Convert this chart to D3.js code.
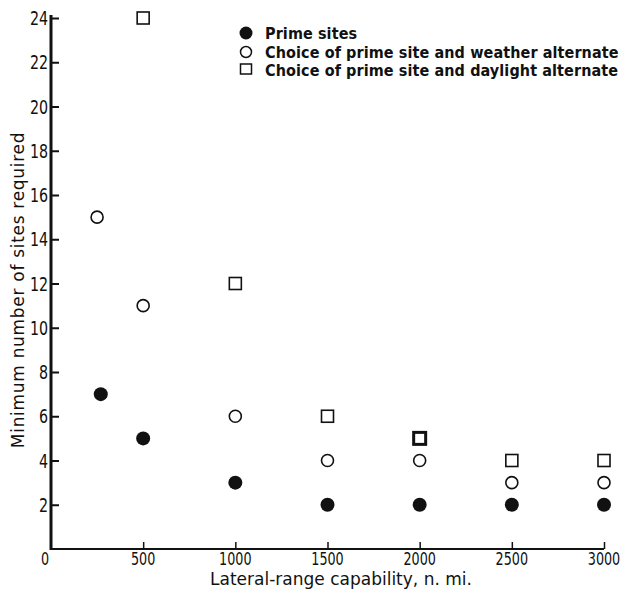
<!DOCTYPE html>
<html>
<head>
<meta charset="utf-8">
<script src="https://cdn.jsdelivr.net/npm/d3@7"></script>
<style>
  body { margin: 0; background: #fff; }
  text { font-family: "DejaVu Sans", sans-serif; fill: #111; }
  .narrow { font-family: "DejaVu Sans Condensed", "Liberation Sans Narrow", sans-serif; }
</style>
</head>
<body>
<svg width="628" height="598"></svg>
<script>
// lateral range (n. mi.) and minimum number of sites
var primeX = [270, 500, 1000, 1500, 2000, 2500, 3000];
var primeY = [7, 5, 3, 2, 2, 2, 2];
var weatherX = [250, 500, 1000, 1500, 2000, 2500, 3000];
var weatherY = [15, 11, 6, 4, 4, 3, 3];
var daylightX = [500, 1000, 1500, 2000, 2500, 3000];
var daylightY = [24, 12, 6, 5, 4, 4];
var xTicks = [500, 1000, 1500, 2000, 2500, 3000];
var yTicks = [2, 4, 6, 8, 10, 12, 14, 16, 18, 20, 22, 24];
var legendLabels = ["Prime sites",
    "Choice of prime site and weather alternate",
    "Choice of prime site and daylight alternate"];

var svg = d3.select("svg");

var x = d3.scaleLinear().domain([0, 3000]).range([51, 604]);
var y = d3.scaleLinear().domain([0, 24]).range([549, 18]);

// axes
var yAxis = d3.axisRight(y).tickValues(yTicks).tickSize(8).tickFormat("");
var gy = svg.append("g").attr("transform", "translate(" + x(0) + ",0)").call(yAxis);
gy.select(".domain").remove();
gy.selectAll(".tick line").attr("stroke", "#111").attr("stroke-width", 2);

var xAxis = d3.axisTop(x).tickValues(xTicks).tickSize(7).tickFormat("");
var gx = svg.append("g").attr("transform", "translate(0," + y(0) + ")").call(xAxis);
gx.select(".domain").remove();
gx.selectAll(".tick line").attr("stroke", "#111").attr("stroke-width", 1.5);

svg.append("line")
    .attr("x1", x(0)).attr("x2", x(0))
    .attr("y1", y(0) + 1).attr("y2", y(24) - 3)
    .attr("stroke", "#111").attr("stroke-width", 3);
svg.append("line")
    .attr("x1", x(0)).attr("x2", x(3000))
    .attr("y1", y(0)).attr("y2", y(0))
    .attr("stroke", "#111").attr("stroke-width", 2);

// tick labels (narrow lettering like the original)
svg.append("g").selectAll(null)
    .data(yTicks).enter()
    .append("text")
    .attr("transform", function(d) {
        return "translate(" + (x(0) - 3) + "," + (y(d) + 7) + ") scale(0.75,1)";
    })
    .attr("text-anchor", "end")
    .style("font-size", "19px")
    .text(function(d) { return d; });

svg.append("g").selectAll(null)
    .data(xTicks).enter()
    .append("text")
    .attr("transform", function(d) {
        return "translate(" + x(d) + "," + (y(0) + 16) + ") scale(0.75,1)";
    })
    .attr("text-anchor", "middle")
    .style("font-size", "17px")
    .text(function(d) { return d; });

svg.append("text")
    .attr("transform", "translate(" + (x(0) - 6) + "," + (y(0) + 16) + ") scale(0.75,1)")
    .attr("text-anchor", "middle")
    .style("font-size", "17px")
    .text("0");

// axis titles
svg.append("text")
    .attr("x", 341)
    .attr("y", 585)
    .attr("text-anchor", "middle")
    .style("font-size", "17px")
    .text("Lateral-range capability, n. mi.");

svg.append("text")
    .attr("transform", "translate(24,290) rotate(-90)")
    .attr("text-anchor", "middle")
    .style("font-size", "17px")
    .style("letter-spacing", "0.7px")
    .text("Minimum number of sites required");

// data points
svg.append("g").selectAll(null)
    .data(primeY).enter()
    .append("circle")
    .attr("cx", function(d, i) { return x(primeX[i]); })
    .attr("cy", function(d) { return y(d); })
    .attr("r", 7)
    .attr("fill", "#111");

svg.append("g").selectAll(null)
    .data(weatherY).enter()
    .append("circle")
    .attr("cx", function(d, i) { return x(weatherX[i]); })
    .attr("cy", function(d) { return y(d); })
    .attr("r", 6)
    .attr("fill", "none")
    .attr("stroke", "#111")
    .attr("stroke-width", 1.6);

svg.append("g").selectAll(null)
    .data(daylightY).enter()
    .append("rect")
    .attr("x", function(d, i) { return x(daylightX[i]) - 6; })
    .attr("y", function(d) { return y(d) - 6; })
    .attr("width", 12)
    .attr("height", 12)
    .attr("fill", "none")
    .attr("stroke", "#111")
    .attr("stroke-width", function(d, i) { return daylightX[i] == 2000 ? 3 : 1.6; });

// legend
var legend = svg.append("g").attr("transform", "translate(246,33)");
legend.append("circle").attr("cx", 0).attr("cy", 0).attr("r", 6.5).attr("fill", "#111");
legend.append("circle").attr("cx", 0).attr("cy", 19).attr("r", 5.5)
    .attr("fill", "none").attr("stroke", "#111").attr("stroke-width", 1.5);
legend.append("rect").attr("x", -5.5).attr("y", 31).attr("width", 11).attr("height", 10)
    .attr("fill", "none").attr("stroke", "#111").attr("stroke-width", 1.5);
legend.selectAll(null)
    .data(legendLabels).enter()
    .append("text")
    .attr("class", "narrow")
    .attr("x", 19)
    .attr("y", function(d, i) { return i * 18.5 + 6; })
    .style("font-size", "16px")
    .style("font-weight", "bold")
    .style("letter-spacing", "0.1px")
    .text(function(d) { return d; });
</script>
</body>
</html>
